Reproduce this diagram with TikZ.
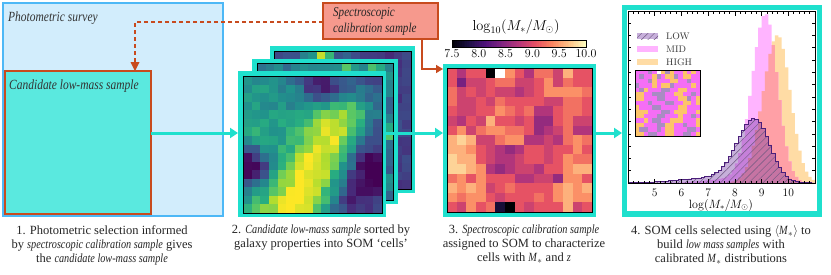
\documentclass[tikz,border=0pt]{standalone}
\usepackage[no-math]{fontspec}
\setmainfont{Liberation Serif}[ItalicFeatures={FakeStretch=0.82}]
\newfontfamily\lmr{Latin Modern Roman}
\usetikzlibrary{arrows.meta,patterns.meta,calc}
\definecolor{turq}{HTML}{1FE0CD}
\definecolor{turqlight}{HTML}{5AE9DF}
\definecolor{skyfill}{HTML}{D2EDFC}
\definecolor{skyline}{HTML}{4DB8F6}
\definecolor{rust}{HTML}{C84B1E}
\definecolor{salmonbox}{HTML}{F6998D}
\definecolor{vir0}{HTML}{440154}\definecolor{vir1}{HTML}{472D7B}\definecolor{vir2}{HTML}{3B528B}
\definecolor{vir3}{HTML}{2C728E}\definecolor{vir4}{HTML}{21918C}\definecolor{vir5}{HTML}{28AE80}
\definecolor{vir6}{HTML}{5EC962}\definecolor{vir7}{HTML}{ADDC30}\definecolor{vir8}{HTML}{FDE725}
\definecolor{mag0}{HTML}{000004}\definecolor{mag1}{HTML}{1C1044}\definecolor{mag2}{HTML}{4F127B}
\definecolor{mag3}{HTML}{812581}\definecolor{mag4}{HTML}{B5367A}\definecolor{mag5}{HTML}{E55064}
\definecolor{mag6}{HTML}{FB8761}\definecolor{mag7}{HTML}{FEC287}\definecolor{mag8}{HTML}{FCFDBF}
\definecolor{highc}{HTML}{FFDCA5}
\definecolor{midc}{HTML}{FFB4FF}
\definecolor{ovc}{HTML}{FFA0A6}
\definecolor{lowc}{HTML}{6B2D9F}
\definecolor{lowline}{HTML}{4B1F7A}
\definecolor{hatchc}{HTML}{6E5880}
\definecolor{insL}{HTML}{A98BC3}
\definecolor{insM}{HTML}{F56EF5}
\definecolor{insH}{HTML}{FDC46A}
\newcommand\cmapset[2]{%
  \pgfmathsetmacro\cmv{max(0,min(1,#1))*8}%
  \pgfmathtruncatemacro\cmi{min(7,floor(\cmv))}%
  \pgfmathtruncatemacro\cmf{round((\cmv-\cmi)*100)}%
  \pgfmathtruncatemacro\cmj{\cmi+1}%
  \colorlet{cellc}{#2\cmj!\cmf!#2\cmi}}
\tikzset{
  panelbox/.style={inner sep=0, outer sep=0, anchor=north west},
  tarrow/.style={draw=turq, line width=3pt, -{Triangle[length=8pt,width=10pt]}},
  captxt/.style={anchor=north, align=center, inner sep=0, font=\fontsize{12.5}{14}\selectfont, text=black!85},
  ticklab/.style={font=\lmr\fontsize{11.5}{13}\selectfont, inner sep=0},
}
\begin{document}
\begin{tikzpicture}[x=1pt,y=-1pt,
  declare function={
    sq(\t)=\t*\t;
    gs(\t,\xm,\xl,\xr)=exp(-0.5*sq((\t-\xm)/((\t<\xm)*\xl+(\t>=\xm)*\xr)));
    lowf(\t)=62*gs(\t,8.75,0.65,0.55)+5*exp(-0.5*sq((\t-7.2)/1.3));
    midf(\t)=168*gs(\t,9.15,0.5,0.45)+4*exp(-0.5*sq((\t-7.8)/0.9));
    highf(\t)=148*gs(\t,9.6,0.55,0.48);
    ovf(\t)=min(midf(\t),highf(\t));
    frontv(\u,\w)=0.56-0.022*\u
      +0.62*exp(-0.5*sq((\u-13.3+0.47*\w)*0.9/2.4))/(1+exp(-1.2*(\w-3)))
      +0.1*exp(-(sq(\u-2)+sq(\w-6.5))/8)
      -0.6*exp(-(sq(\u-0.8)+sq(\w-10.5))/5)
      -0.4*exp(-(sq(\u-15)+sq(\w-11))/6.5)
      -0.32*exp(-(sq(\u-9)+sq(\w-1.3))/4)
      -0.2*exp(-(sq(\u-12)+sq(\w-14.5))/5);
    midv(\u,\w)=0.42-0.012*\w+0.55*exp(-(sq(\u-13.8)+sq(\w-1.2))/1.2)
      +0.3*exp(-(sq(\u-10.5)+sq(\w-1))/1.5)+0.4*exp(-(sq(\u-15.5)+sq(\w-8))/1.5)
      +0.25*exp(-(sq(\u-15.5)+sq(\w-14))/2);
    backv(\u,\w)=0.25-0.005*\u+0.7*exp(-(sq(\u-5.8)+sq(\w-0.5))/1.0)
      +0.3*exp(-(sq(\u-3.8)+sq(\w-0.5))/0.8)+0.15*exp(-(sq(\u-8.5)+sq(\w-0.5))/1);
  }]
\pgfmathsetseed{4242}
\useasboundingbox (0,0) rectangle (831,274);
\fill[white] (0,0) rectangle (831,274);

% ---------- panel 1
\node[panelbox, draw=skyline, fill=skyfill, line width=2pt, minimum width=220, minimum height=213] (survey) at (3,3) {};
\node[panelbox, draw=rust, fill=turqlight, line width=2.5pt, minimum width=146, minimum height=143] (cand) at (5,71) {};
\node[anchor=west, inner sep=0, font=\fontsize{14}{16}\selectfont\itshape, text=black!80] (surveylbl) at (8,18) {Photometric survey};
\node[anchor=west, inner sep=0, font=\fontsize{14}{16}\selectfont\itshape, text=black!80] (candlbl) at (9,86) {Candidate low-mass sample};

% ---------- spectroscopic box
\coordinate (dcorner) at (135,22);
\draw[rust, line width=1.4pt, dash pattern=on 4pt off 3pt] (323,22) -- (dcorner) -- ($(cand.north -| dcorner)+(0,-8)$);
\node[panelbox, draw=rust, fill=salmonbox, line width=2pt, minimum width=115, minimum height=36] (spec) at (323,3) {};
\fill[rust] (cand.north -| dcorner) -- ++(-4.5,-9) -- ++(9,0) -- cycle;
\node[anchor=north west, align=left, inner sep=0, font=\fontsize{13.5}{16}\selectfont\itshape, text=black!85] (spectxt) at (333,7) {Spectroscopic\\calibration sample};

% ---------- panel 2 : stacked SOMs
\node[panelbox, fill=turq, minimum width=145, minimum height=147] (back) at (270,46) {};
\foreach \r in {0,...,15}{\foreach \c in {0,...,15}{
  \pgfmathsetmacro\val{backv(\c+0.5,\r+0.5)+0.14*(rnd-0.5)}
  \cmapset{\val}{vir}
  \fill[cellc] ({274+\c*8.5625},{51+\r*8.625}) rectangle ++(8.7,8.75);
}}
\draw[line width=0.6pt] (274,51) rectangle (411,189);
\node[panelbox, fill=turq, minimum width=146, minimum height=145] (midl) at (252,59) {};
\foreach \r in {0,...,15}{\foreach \c in {0,...,15}{
  \pgfmathsetmacro\val{midv(\c+0.5,\r+0.5)+0.16*(rnd-0.5)}
  \cmapset{\val}{vir}
  \fill[cellc] ({257+\c*8.5},{63+\r*8.5625}) rectangle ++(8.6,8.7);
}}
\draw[line width=0.6pt] (257,63) rectangle (393,200);
\node[panelbox, fill=turq, minimum width=148, minimum height=146] (front) at (238,71) {};
\foreach \r in {0,...,15}{\foreach \c in {0,...,15}{
  \pgfmathsetmacro\val{frontv(\c+0.5,\r+0.5)+0.16*(rnd-0.5)}
  \cmapset{\val}{vir}
  \fill[cellc] ({243+\c*8.6875},{76+\r*8.5625}) rectangle ++(8.8,8.7);
}}
\draw[line width=0.6pt] (243,76) rectangle (382,213);

% ---------- panel 3 : magma SOM
\node[panelbox, fill=turq, minimum width=153, minimum height=153] (som3) at (443,64) {};
\foreach \row [count=\r from 0] in {
 {5,3,5,5,0,10,7,5,3,6,6,4,8,5,5},
 {5,1,4,4,5,6,6,4,4,5,7,4,6,5,5},
 {6,4,5,4,5,4,4,3,4,5,7,7,7,7,6},
 {6,4,4,5,4,6,5,5,5,5,4,4,6,6,5},
 {5,4,4,5,5,7,6,5,6,3,3,5,6,6,5},
 {4,3,5,4,8,5,5,4,5,2,2,5,6,4,4},
 {5,7,4,6,7,7,6,6,5,2,3,4,6,3,3},
 {8,9,8,4,4,6,7,7,3,3,4,3,6,7,6},
 {8,8,7,5,4,3,2,3,5,5,4,5,5,7,5},
 {9,8,8,5,4,3,3,4,5,5,4,5,7,6,6},
 {9,9,8,7,3,2,3,4,4,3,5,5,7,8,8},
 {6,7,5,7,5,5,5,3,3,4,4,2,7,7,5},
 {8,7,8,7,4,5,6,5,5,5,5,7,8,7,8},
 {7,6,7,7,5,4,5,5,5,6,5,7,8,7,7},
 {5,4,7,5,6,-1,0,5,4,5,5,5,8,4,5}}{
  \foreach \e [count=\c from 0] in \row {
    \ifnum\e=10 \colorlet{cellc}{white}\else
      \pgfmathsetmacro\val{(\e<0)*0.1+(\e>0)*(0.28+\e*0.07)}%
      \cmapset{\val}{mag}\fi
    \fill[cellc] ({447+\c*9.667},{68+\r*9.6}) rectangle ++(9.8,9.7);
  }}
\draw[line width=0.6pt] (447,68) rectangle (592,212);

% colorbar
\foreach \i in {0,...,79}{
  \pgfmathsetmacro\vv{(\i+0.5)/80}
  \cmapset{\vv}{mag}
  \fill[cellc] ({452+\i*1.675},40) rectangle ++(1.8,7);
}
\draw[line width=0.9pt] (452,40) rectangle (586,47);
\foreach \lab [count=\k from 0] in {7.5,8.0,8.5,9.0,9.5,10.0}
  \node[ticklab, font=\lmr\fontsize{12}{14}\selectfont] (cbt\k) at ({452+\k*26.8},54) {\lab};
\node[inner sep=0, font=\fontsize{14.5}{16}\selectfont] (cblab) at (516,27) {$\log_{10}(M_*/M_\odot)$};

% ---------- panel 4 : histograms
\node[panelbox, fill=turq, minimum width=200, minimum height=212] (histp) at (622,5) {};
\fill[white] (627,10) rectangle (817,211);
\begin{scope}[shift={(521.14pt,-183pt)}, x=26.714pt, y=1pt]
  \fill[highc] (4,0) -- plot[const plot, domain=4:11, samples=57] (\x,{highf(\x+0.0625)}) -- (11,0) -- cycle;
  \fill[midc] (4,0) -- plot[const plot, domain=4:11, samples=57] (\x,{midf(\x+0.0625)}) -- (11,0) -- cycle;
  \fill[ovc] (4,0) -- plot[const plot, domain=4:11, samples=57] (\x,{ovf(\x+0.0625)}) -- (11,0) -- cycle;
  \path[fill=lowc, fill opacity=0.38] (4,0) -- plot[const plot, domain=4:11, samples=57] (\x,{lowf(\x+0.0625)}) -- (11,0) -- cycle;
  \path[pattern={Lines[angle=45,distance=5pt,line width=0.45pt]}, pattern color=hatchc] (4,0) -- plot[const plot, domain=4:11, samples=57] (\x,{lowf(\x+0.0625)}) -- (11,0) -- cycle;
  \draw[lowline, line width=0.8pt] plot[const plot, domain=4:11, samples=57] (\x,{lowf(\x+0.0625)});
  \foreach \k in {0,...,35}{
    \pgfmathsetmacro\tx{4+\k*0.2}
    \pgfmathsetmacro\tl{ifthenelse(mod(\k,5)==0,4.5,2.5)}
    \draw[line width=0.5pt] (\tx,0) -- ++(0,\tl);
    \draw[line width=0.5pt] (\tx,172) -- ++(0,-\tl);
  }
  \foreach \k in {1,...,13}{
    \draw[line width=0.5pt] (4,\k*12.3) -- ++(0.12,0);
    \draw[line width=0.5pt] (11,\k*12.3) -- ++(-0.12,0);
  }
  \draw[line width=0.8pt] (4,0) rectangle (11,172);
  \foreach \n in {5,...,10} \node[ticklab] (xt\n) at (\n,-10) {\n};
  \node[inner sep=0, font=\fontsize{12}{14}\selectfont] (xlab) at (7.48,-22) {$\log(M_*/M_\odot)$};
\end{scope}
% legend
\path[fill=lowc!38!white, postaction={pattern={Lines[angle=45,distance=4.5pt,line width=0.45pt]}, pattern color=hatchc}] (637,33) rectangle (658,39);
\fill[midc] (637,46) rectangle (658,52);
\fill[highc] (637,59) rectangle (658,65);
\node[anchor=west, inner sep=0, font=\lmr\fontsize{9.5}{11}\selectfont, text=black!80] (lowt) at (666,36) {LOW};
\node[anchor=west, inner sep=0, font=\lmr\fontsize{9.5}{11}\selectfont, text=black!80] (midt) at (666,49) {MID};
\node[anchor=west, inner sep=0, font=\lmr\fontsize{9.5}{11}\selectfont, text=black!80] (hight) at (666,62) {HIGH};
% inset SOM
\foreach \row [count=\r from 0] in {
 {2,2,2,1,2,0,3,1,3,2,2,3,2,3,2},
 {2,1,2,2,3,1,2,3,3,1,2,3,3,2,2},
 {2,2,2,1,3,2,2,2,3,3,2,2,1,2,2},
 {1,2,2,2,3,2,3,3,1,2,2,2,2,3,2},
 {2,1,3,2,2,2,1,1,2,2,3,3,2,2,2},
 {3,3,2,2,1,1,1,2,2,3,3,2,2,1,2},
 {3,3,2,2,2,1,1,2,2,2,3,3,1,2,3},
 {2,2,2,1,2,2,2,1,1,2,2,3,3,2,3},
 {3,2,2,2,1,1,2,2,2,2,3,3,2,2,2},
 {3,3,3,2,2,2,1,1,2,3,3,3,2,2,3},
 {3,3,2,2,2,1,1,2,2,2,3,2,2,1,2},
 {2,2,3,2,1,1,2,2,3,3,3,2,2,2,3},
 {3,3,2,2,2,1,1,3,3,2,2,1,2,2,3},
 {3,1,1,2,2,1,2,3,3,2,2,2,1,1,2},
 {3,3,2,1,1,2,2,3,3,2,2,1,1,2,3}}{
  \foreach \e [count=\c from 0] in \row {
    \ifcase\e \colorlet{cellc}{white}\or\colorlet{cellc}{insL}\or\colorlet{cellc}{insM}\or\colorlet{cellc}{insH}\fi
    \fill[cellc] ({635+\c*4.333},{70+\r*4.4}) rectangle ++(4.45,4.5);
  }}
\draw[line width=0.6pt] (635,70) rectangle (700,136);

% ---------- connectors
\coordinate (ay) at (0,133);
\draw[tarrow] (cand.east |- ay) -- (front.west |- ay);
\draw[tarrow] (front.east |- ay) -- (som3.west |- ay);
\draw[tarrow] (som3.east |- ay) -- (histp.west |- ay);
\coordinate (sx) at (422,69);
\draw[rust, line width=1.5pt, -{Triangle[length=7pt,width=8pt]}] (spec.south -| sx) |- (som3.west |- sx);

% ---------- captions
\node[captxt] (cap1) at (102,225) {1. Photometric selection informed\\by \textit{spectroscopic calibration sample} gives\\the \textit{candidate low-mass sample}};
\node[captxt] (cap2) at (321,225) {2. \textit{Candidate low-mass sample} sorted by\\galaxy properties into SOM ‘cells’};
\node[captxt] (cap3) at (524,225) {3. \textit{Spectroscopic calibration sample}\\assigned to SOM to characterize\\cells with \textit{M}$_*$ and \textit{z}};
\node[captxt] (cap4) at (721,225) {4. SOM cells selected using $\langle$\textit{M}$_*\rangle$ to\\build \textit{low mass samples} with\\calibrated \textit{M}$_*$ distributions};
\end{tikzpicture}
\end{document}
